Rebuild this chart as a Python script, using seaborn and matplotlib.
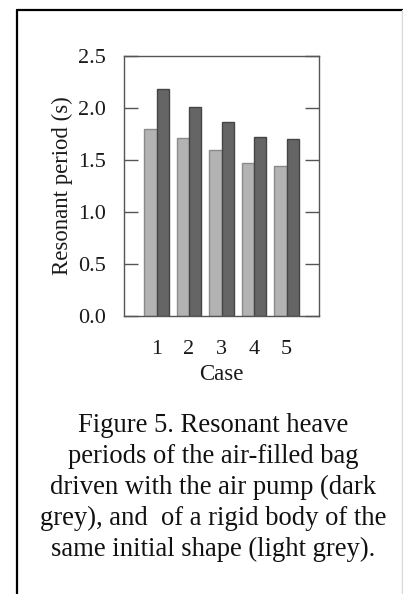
import matplotlib
matplotlib.use("Agg")
import matplotlib.pyplot as plt
import seaborn as sns
import pandas as pd
from matplotlib.lines import Line2D

cases = ["1", "2", "3", "4", "5"]
rigid_body = [1.80, 1.71, 1.60, 1.47, 1.445]     # light grey
air_bag = [2.18, 2.01, 1.87, 1.72, 1.70]         # dark grey
series_names = ["Rigid body", "Air-filled bag"]
y_ticks = [0.0, 0.5, 1.0, 1.5, 2.0, 2.5]
caption = ("Figure 5. Resonant heave\n"
           "periods of the air-filled bag\n"
           "driven with the air pump (dark\n"
           "grey), and  of a rigid body of the\n"
           "same initial shape (light grey).")

df = pd.DataFrame({
    "Case": cases * 2,
    "Series": [series_names[0]] * len(cases) + [series_names[1]] * len(cases),
    "Period": rigid_body + air_bag,
})

sns.set_theme(style="white")
plt.rcParams["font.family"] = ["Liberation Serif", "DejaVu Serif"]

fig = plt.figure(figsize=(4.03, 5.94), dpi=100)
ax = fig.add_axes([124 / 403, 1 - 316 / 594, 195 / 403, 260 / 594])

palette = {series_names[0]: "#b3b3b3", series_names[1]: "#656565"}
sns.barplot(data=df, x="Case", y="Period", hue="Series", order=cases,
            hue_order=series_names, palette=palette, width=0.75,
            saturation=1, legend=False, ax=ax, linewidth=1.0)

edge_cols = ["#8a8a8a", "#454545"]
for cont, ec in zip(ax.containers, edge_cols):
    for p in cont:
        p.set_edgecolor(ec)
        p.set_linewidth(1.0)

ax.set_xlim(-1, 5)
ax.set_ylim(0, 2.5)
ax.set_yticks(y_ticks)
ax.set_yticklabels([f"{v:.1f}" for v in y_ticks])
ax.tick_params(axis="y", which="both", direction="in", length=10, width=1,
               color="#555555", left=True, right=True, labelsize=16, pad=13,
               labelcolor="#1a1a1a")
ax.tick_params(axis="x", length=0, labelsize=16, pad=17.5, labelcolor="#1a1a1a")
ax.set_xlabel("Case", fontsize=16.5, labelpad=3.5, color="#1a1a1a")
ax.set_ylabel("Resonant period (s)", fontsize=16.4, labelpad=4, color="#1a1a1a")
for s in ax.spines.values():
    s.set_visible(True)
    s.set_color("#555555")
    s.set_linewidth(1.0)

fig.text(213 / 403, 1 - 487.5 / 594, caption, ha="center", va="center",
         fontsize=19.2, linespacing=1.32, color="#111111")

# text-box frame
fig.add_artist(Line2D([16.5 / 403, 16.5 / 403], [1 - 9.5 / 594, 0],
                      transform=fig.transFigure, color="black", lw=1.6))
fig.add_artist(Line2D([16.5 / 403, 1], [1 - 9.5 / 594, 1 - 9.5 / 594],
                      transform=fig.transFigure, color="black", lw=1.6))
fig.add_artist(Line2D([402.3 / 403, 402.3 / 403], [1 - 9.5 / 594, 0],
                      transform=fig.transFigure, color="#d8d8d8", lw=1.0))

fig.savefig("out.png", dpi=100)
